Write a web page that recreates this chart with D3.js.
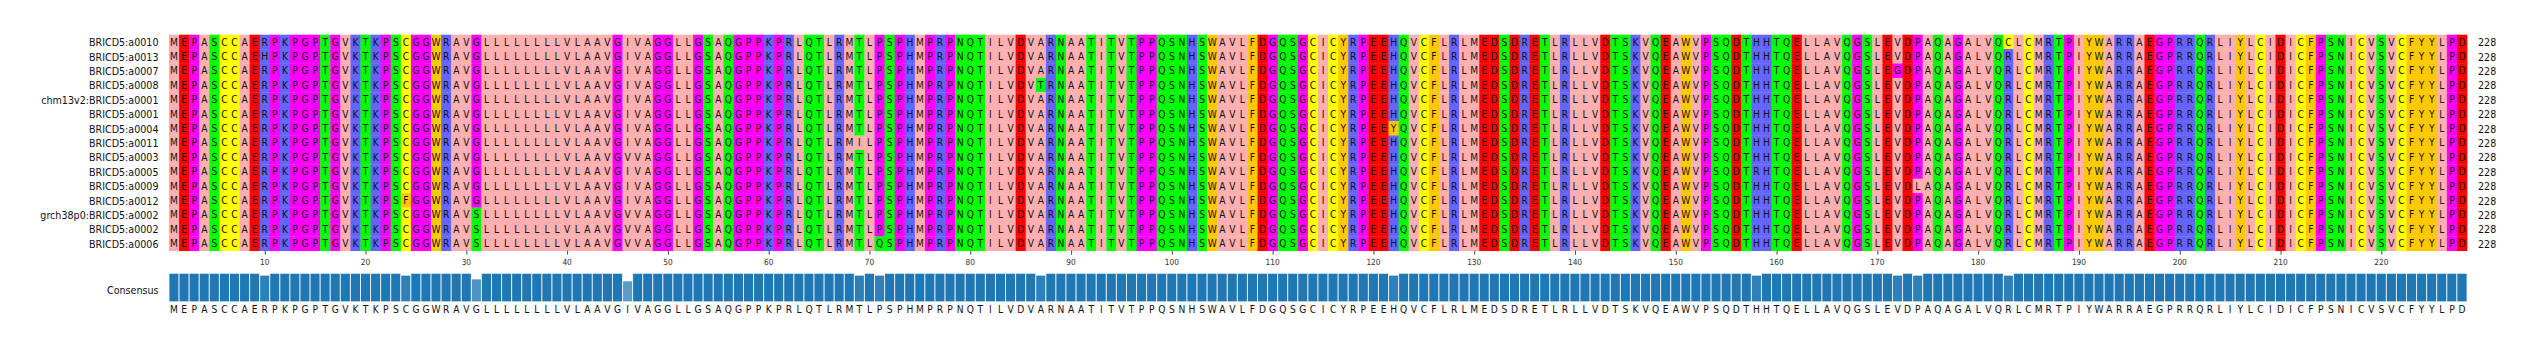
<!DOCTYPE html>
<html><head><meta charset="utf-8">
<script src="https://cdn.jsdelivr.net/npm/d3@7/dist/d3.min.js"></script>
<style>
body{margin:0;background:#fff;}
text{font-family:"DejaVu Sans",sans-serif;}
</style>
</head><body>
<svg id="chart" width="2531" height="351"></svg>
<script>
// ---------------- DATA ----------------
const seqNames = [
  "BRICD5:a0010","BRICD5:a0013","BRICD5:a0007","BRICD5:a0008",
  "chm13v2:BRICD5:a0001","BRICD5:a0001","BRICD5:a0004","BRICD5:a0011",
  "BRICD5:a0003","BRICD5:a0005","BRICD5:a0009","BRICD5:a0012",
  "grch38p0:BRICD5:a0002","BRICD5:a0002","BRICD5:a0006"
];
// shared (reference) residues, in segments
const referenceSegments = [
  "MEPASCCAERPKPGPTGVKTKPSCGGWRAVG",
  "LLLLLLLL",
  "VLAAVGIVAGGLLGSAQGPPKPRLQTLRMTLPSPHMPRPNQT",
  "ILVDVARNAATITVTPPQSNHSWAVLFDGQSGCICYR",
  "PEEHQVCFLRLMEDSDRETLRLLVDTSKVQEAWVPSQD",
  "THHTQELLAVQGSLEVDPAQAGALVQRLCMRTPIY",
  "WARRAEGPRRQRLIYLCIDICFPSNICVSVCFYYLPD"
];
// residues that differ from the reference (sequence, 1-based position, residue)
const variantSeq = ["BRICD5:a0013","BRICD5:a0012",
  "grch38p0:BRICD5:a0002","BRICD5:a0002","BRICD5:a0006",
  "grch38p0:BRICD5:a0002","BRICD5:a0002","BRICD5:a0006","BRICD5:a0003",
  "BRICD5:a0011","BRICD5:a0006","BRICD5:a0008","BRICD5:a0004",
  "BRICD5:a0005","BRICD5:a0007","BRICD5:a0009","BRICD5:a0010"];
const variantPos = [10,24, 31,31,31, 46,46,46,46, 69,71,87,122, 158,172,174,183];
const variantAA  = ["H","F", "S","S","S", "V","V","V","V", "I","Q","T","Y", "R","G","L","C"];
const tickValues = [10,20,30,40,50,60,70,80,90,100,110,120,130,140,150,160,170,180,190,200,210,220];
// Zappo colour scheme
const zappoResidues = ["ILVAM","FWY","KRH","DE","STNQ","PG","C"];
const zappoColors   = ["#ffafaf","#ffc800","#6464ff","#ff0000","#00ff00","#ff00ff","#ffff00"];

// ---------------- BUILD ----------------
const reference = referenceSegments.join("");
const seqs = seqNames.map(name => {
  const arr = reference.split("");
  variantSeq.forEach((s,i) => { if (s === name) arr[variantPos[i]-1] = variantAA[i]; });
  return arr;
});
const L = reference.length;
const colorOf = aa => {
  for (let i=0;i<zappoResidues.length;i++) if (zappoResidues[i].includes(aa)) return zappoColors[i];
  return "#ffffff";
};
const positions = d3.range(1, L+1);
const consensus = positions.map(p => {
  const counts = d3.rollup(seqs.map(s => s[p-1]), v => v.length, d => d);
  let best = null, bc = -1;
  counts.forEach((c,k) => { if (c > bc) { bc = c; best = k; } });
  return {pos:p, aa:best, ident: bc / seqs.length};
});

// ---------------- SCALES ----------------
const svg = d3.select("#chart");
const x = d3.scaleLinear().domain([0.5, L+0.5]).range([169, 2467]);
const cw = x(1.5) - x(0.5);
const y = d3.scaleBand().domain(seqNames).range([34.7, 250.7]);
const yBar = d3.scaleLinear().domain([0,1]).range([301.8, 273.3]);
const SX = 0.87;

function txt(g, tx, ty, s, size, anchor) {
  return g.append("text")
    .attr("transform", `translate(${tx},${ty}) scale(${SX},1)`)
    .attr("font-size", size)
    .attr("text-anchor", anchor)
    .attr("dominant-baseline", "central")
    .attr("fill", "#111")
    .text(s);
}

// cells
const cellG = svg.append("g");
seqs.forEach((s, r) => {
  const name = seqNames[r];
  cellG.selectAll(null).data(s.map((aa,i)=>({aa,pos:i+1}))).enter()
    .append("rect")
    .attr("x", d => x(d.pos - 0.5))
    .attr("y", y(name))
    .attr("width", cw + 0.35)
    .attr("height", y.bandwidth() + 0.35)
    .attr("fill", d => colorOf(d.aa));
});
// letters
const letG = svg.append("g");
seqs.forEach((s, r) => {
  const name = seqNames[r];
  const cy = y(name) + y.bandwidth()/2;
  s.forEach((aa,i) => txt(letG, x(i+1), cy, aa, 10.5, "middle"));
  // labels
  txt(letG, 158.5, cy, name, 11, "end");
  txt(letG, 2478, cy, String(s.filter(c => c !== "-").length), 11, "start");
});

// axis
const axis = d3.axisBottom(x).tickValues(tickValues).tickSize(4).tickPadding(3.5);
const ag = svg.append("g").attr("transform", `translate(0,${250.7})`).call(axis);
ag.select(".domain").remove();
ag.selectAll(".tick line").attr("stroke", "#333").attr("stroke-width", 0.9);
ag.selectAll(".tick text").remove();
tickValues.forEach(t => txt(ag, x(t), 262.2 - 250.7, String(t), 8.5, "middle").attr("fill","#333"));

// consensus bars
const barG = svg.append("g");
barG.selectAll("rect").data(consensus).enter().append("rect")
  .attr("x", d => x(d.pos - 0.5))
  .attr("y", d => yBar(d.ident))
  .attr("width", cw)
  .attr("height", d => yBar(0) - yBar(d.ident))
  .attr("fill", "#1f77b4")
  .attr("fill-opacity", d => d.ident)
  .attr("stroke", "#ffffff")
  .attr("stroke-opacity", 0.75)
  .attr("stroke-width", 1);
txt(barG, 158.5, 289.5, "Consensus", 11, "end");
consensus.forEach(d => txt(barG, x(d.pos), 309.3, d.aa, 10.5, "middle"));
</script>
</body></html>
